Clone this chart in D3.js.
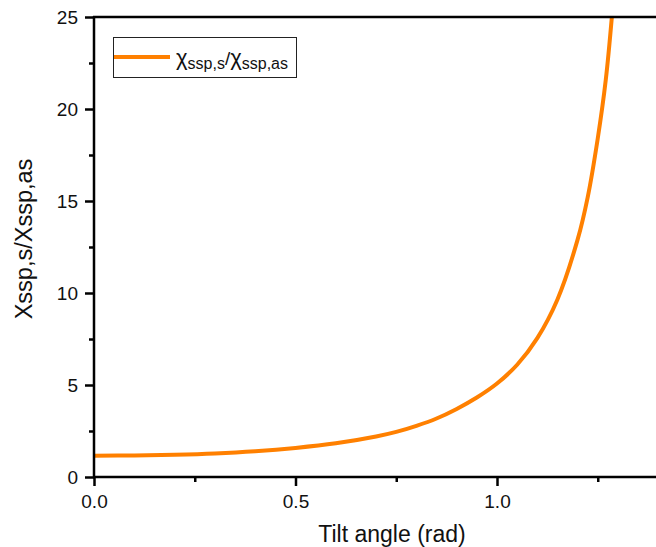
<!DOCTYPE html>
<html>
<head>
<meta charset="utf-8">
<script src="https://cdn.jsdelivr.net/npm/d3@7"></script>
<style>
  html, body { margin: 0; padding: 0; background: #fff; }
  svg { display: block; font-family: "Liberation Sans", Arial, sans-serif; }
</style>
</head>
<body>
<svg id="chart" width="656" height="547"></svg>
<script>
// Ratio of the symmetric to antisymmetric SSP susceptibility vs. tilt angle
const tiltAngle = [0.00, 0.10, 0.20, 0.30, 0.40, 0.50, 0.60, 0.70, 0.75, 0.80, 0.85,
                   0.90, 0.95, 1.00, 1.05, 1.10, 1.15, 1.20, 1.225, 1.25, 1.27, 1.285];
const chiRatio   = [1.16, 1.17, 1.21, 1.28, 1.40, 1.58, 1.83, 2.20, 2.45, 2.78, 3.18,
                   3.70, 4.32, 5.08, 6.10, 7.55, 9.65, 12.9, 15.2, 18.4, 21.6, 25.0];

const xMajorTicks = [0, 0.5, 1.0];
const xMinorTicks = [0.25, 0.75, 1.25];
const yMajorTicks = [0, 5, 10, 15, 20, 25];
const yMinorTicks = [2.5, 7.5, 12.5, 17.5, 22.5];

const xTitle = "Tilt angle (rad)";
const yTitle = "Xssp,s/Xssp,as";
const lineColor = "#FF8000";

const svg = d3.select("#chart");
const plotLeft = 94, plotTop = 17, plotBottom = 477, plotRight = 658.2;

const x = d3.scaleLinear().domain([0, 1.4]).range([plotLeft, plotRight]);
const y = d3.scaleLinear().domain([0, 25]).range([plotBottom, plotTop]);

// curve
const pts = tiltAngle.map((t, i) => [t, chiRatio[i]]);
svg.append("path")
  .datum(pts)
  .attr("fill", "none")
  .attr("stroke", lineColor)
  .attr("stroke-width", 4)
  .attr("d", d3.line().x(d => x(d[0])).y(d => y(d[1])).curve(d3.curveCatmullRom.alpha(0.5)));

// axes
const fmtX = d3.format(".1f");
const xAxis = svg.append("g").attr("transform", `translate(0,${plotBottom})`)
  .call(d3.axisBottom(x).tickValues(xMajorTicks).tickFormat(fmtX).tickSize(9).tickPadding(6));
const xMinor = svg.append("g").attr("transform", `translate(0,${plotBottom})`)
  .call(d3.axisBottom(x).tickValues(xMinorTicks).tickFormat("").tickSize(5));
const yAxis = svg.append("g").attr("transform", `translate(${plotLeft},0)`)
  .call(d3.axisLeft(y).tickValues(yMajorTicks).tickFormat(d3.format("d")).tickSize(9).tickPadding(7));
const yMinor = svg.append("g").attr("transform", `translate(${plotLeft},0)`)
  .call(d3.axisLeft(y).tickValues(yMinorTicks).tickFormat("").tickSize(5));

[xAxis, xMinor, yAxis, yMinor].forEach(g => {
  g.select(".domain").remove();
  g.selectAll(".tick line").attr("stroke", "#000").attr("stroke-width", 2.5);
  g.selectAll(".tick text").attr("fill", "#111").style("font-size", "19px")
    .style("font-family", "'Liberation Sans', Arial, sans-serif");
});
xAxis.selectAll(".tick text").attr("dy", "0.85em");
yAxis.selectAll(".tick text").attr("dy", "0.35em");

// frame lines (left, bottom, top)
svg.append("line").attr("x1", plotLeft).attr("x2", plotLeft).attr("y1", plotTop - 1).attr("y2", plotBottom + 1)
  .attr("stroke", "#000").attr("stroke-width", 2.5);
svg.append("line").attr("x1", plotLeft - 1).attr("x2", 656).attr("y1", plotBottom).attr("y2", plotBottom)
  .attr("stroke", "#000").attr("stroke-width", 2.5);
svg.append("line").attr("x1", plotLeft - 1).attr("x2", 656).attr("y1", plotTop).attr("y2", plotTop)
  .attr("stroke", "#000").attr("stroke-width", 2.5);

// axis titles
svg.append("text").attr("x", 392).attr("y", 542).attr("text-anchor", "middle")
  .attr("fill", "#111").style("font-size", "23px").text(xTitle);
svg.append("text").attr("transform", "translate(32,239) rotate(-90)").attr("text-anchor", "middle")
  .attr("fill", "#111").style("font-size", "23.5px").text(yTitle);

// legend
const lg = svg.append("g");
lg.append("rect").attr("x", 113.5).attr("y", 37.5).attr("width", 183).attr("height", 40)
  .attr("fill", "#fff").attr("stroke", "#222").attr("stroke-width", 1);
lg.append("line").attr("x1", 114).attr("x2", 170).attr("y1", 57).attr("y2", 57)
  .attr("stroke", lineColor).attr("stroke-width", 4);
const lt = lg.append("text").attr("x", 176).attr("y", 65).attr("fill", "#111")
  .style("font-size", "22px");
lt.append("tspan").text("χ");
lt.append("tspan").attr("dy", 4).style("font-size", "16px").text("ssp,s");
lt.append("tspan").attr("dy", -4).style("font-size", "19px").text("/");
lt.append("tspan").text("χ");
lt.append("tspan").attr("dy", 4).style("font-size", "16px").text("ssp,as");
</script>
</body>
</html>
